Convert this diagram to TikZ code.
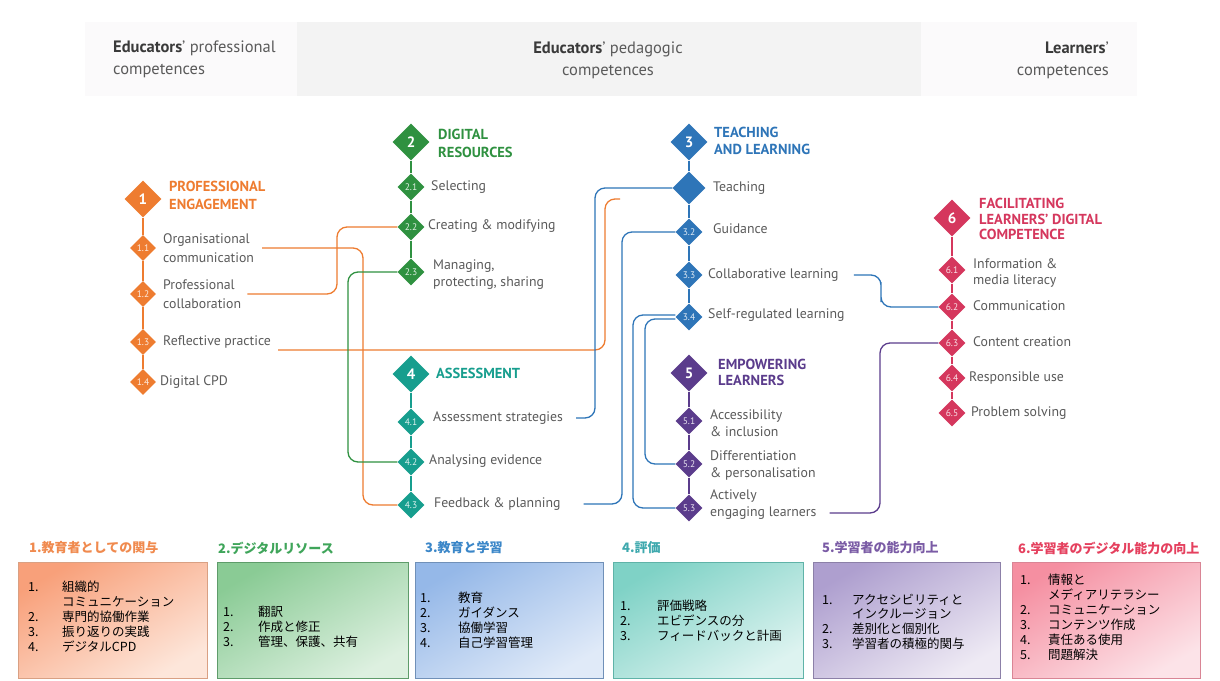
\documentclass[tikz,border=0pt]{standalone}
\usepackage{fontspec}
\setmainfont{PT Sans}
\newfontfamily\jpfont{Noto Sans CJK JP}
\usetikzlibrary{shapes.geometric}

% area colours
\definecolor{cOr}{HTML}{EE7C30}
\definecolor{cGr}{HTML}{2F9140}
\definecolor{cTe}{HTML}{179E8E}
\definecolor{cBl}{HTML}{2E75B8}
\definecolor{cPu}{HTML}{5B3C8C}
\definecolor{cRe}{HTML}{D5375D}
\definecolor{cTx}{HTML}{5A5A5A}
\definecolor{cHd}{HTML}{3A3A3A}
\definecolor{hdSide}{HTML}{FBFAFB}
\definecolor{hdMid}{HTML}{F3F3F3}
% Japanese summary panels
\definecolor{jt1}{HTML}{F08A4E}\definecolor{jb1}{HTML}{D9A083}\definecolor{ja1}{HTML}{F8A07A}\definecolor{jz1}{HTML}{FDE6DA}
\definecolor{jt2}{HTML}{3FA55A}\definecolor{jb2}{HTML}{5E9C6A}\definecolor{ja2}{HTML}{8ACB95}\definecolor{jz2}{HTML}{DDF0E0}
\definecolor{jt3}{HTML}{3A86C8}\definecolor{jb3}{HTML}{7090B8}\definecolor{ja3}{HTML}{95B8E8}\definecolor{jz3}{HTML}{E0EAF8}
\definecolor{jt4}{HTML}{3FA9AE}\definecolor{jb4}{HTML}{5FB3A8}\definecolor{ja4}{HTML}{7FD2C6}\definecolor{jz4}{HTML}{DDF3F0}
\definecolor{jt5}{HTML}{7A5BA5}\definecolor{jb5}{HTML}{8C80A8}\definecolor{ja5}{HTML}{AE9FCF}\definecolor{jz5}{HTML}{EEEAF4}
\definecolor{jt6}{HTML}{E5405E}\definecolor{jb6}{HTML}{D98595}\definecolor{ja6}{HTML}{F58FA1}\definecolor{jz6}{HTML}{FCE3E8}

\tikzset{
  maind/.style={diamond, aspect=1, fill=#1, minimum width=37pt, minimum height=37pt,
    inner sep=0pt, text=white, font=\bfseries\fontsize{15}{15}\selectfont},
  subd/.style={diamond, aspect=1, fill=#1, minimum width=27pt, minimum height=27pt,
    inner sep=0pt, text=white, text opacity=0.85, font=\fontsize{9.5}{10}\selectfont},
  ttl/.style={anchor=west, align=left, inner sep=0pt, text=#1,
    font=\bfseries\fontsize{14.5}{17}\selectfont},
  lbl/.style={anchor=west, align=left, inner sep=1pt, text=cTx,
    font=\fontsize{13.8}{17}\selectfont},
  hdr/.style={inner sep=0pt, text=cTx, font=\fontsize{16.5}{22}\selectfont},
  spine/.style={draw=#1, line width=1.6pt},
  conn/.style={draw=#1, line width=1.3pt, rounded corners=10pt},
  jtitle/.style={anchor=west, inner sep=0pt, text=#1, font=\jpfont\bfseries\fontsize{13}{13}\selectfont},
  jbox/.style n args={3}{draw=#1, line width=0.8pt, top color=#2, bottom color=#3, shading angle=30},
  jlist/.style={anchor=north west, inner sep=0pt, text=black, font=\jpfont\fontsize{12.5}{#1}\selectfont},
}

\begin{document}
\begin{tikzpicture}[x=1pt,y=-1pt]
\useasboundingbox (0,0) rectangle (1220,680);
\fill[white] (0,0) rectangle (1220,680);

% ---------- header band ----------
\fill[hdSide] (85,22) rectangle (297,96);
\fill[hdMid] (297,22) rectangle (921,96);
\fill[hdSide] (921,22) rectangle (1137,96);
\node[hdr, anchor=west, align=left] (hl) at (113,59)
  {{\bfseries\color{cHd}Educators}' professional\\competences};
\node[hdr, align=center] (hm) at (608,60)
  {{\bfseries\color{cHd}Educators}' pedagogic\\competences};
\node[hdr, anchor=east, align=right] (hr) at (1109,60)
  {{\bfseries\color{cHd}Learners}'\\competences};

% ---------- 1 professional engagement ----------
\node[maind=cOr] (d1) at (143,199) {1};
\node[ttl=cOr, font=\bfseries\fontsize{14.5}{18}\selectfont] (t1) at (169,195) {PROFESSIONAL\\ENGAGEMENT};
\node[subd=cOr, minimum width=26pt, minimum height=26pt] (d11) at (143,248) {1.1};
\node[subd=cOr, minimum width=26pt, minimum height=26pt] (d12) at (143,294) {1.2};
\node[subd=cOr, minimum width=26pt, minimum height=26pt] (d13) at (143,342) {1.3};
\node[subd=cOr, minimum width=26pt, minimum height=26pt] (d14) at (143,382) {1.4};
\node[lbl, font=\fontsize{13.8}{18.5}\selectfont] (l11) at (162,248) {Organisational\\communication};
\node[lbl, font=\fontsize{13.8}{18.5}\selectfont] (l12) at (162,294) {Professional\\collaboration};
\node[lbl] (l13) at (162,342) {Reflective practice};
\node[lbl] (l14) at (159,382) {Digital CPD};
\draw[spine=cOr] (d1) -- (d11) -- (d12) -- (d13) -- (d14);

% ---------- 2 digital resources ----------
\node[maind=cGr] (d2) at (411,142) {2};
\node[ttl=cGr, font=\bfseries\fontsize{14.5}{18}\selectfont] (t2) at (438,143) {DIGITAL\\RESOURCES};
\node[subd=cGr] (d21) at (411,187) {2.1};
\node[subd=cGr] (d22) at (411,227) {2.2};
\node[subd=cGr] (d23) at (411,272) {2.3};
\node[lbl] (l21) at (430,187) {Selecting};
\node[lbl] (l22) at (427,226) {Creating \& modifying};
\node[lbl] (l23) at (432,275) {Managing,\\protecting, sharing};
\draw[spine=cGr] (d2) -- (d21) -- (d22) -- (d23);

% ---------- 4 assessment ----------
\node[maind=cTe] (d4) at (411,374) {4};
\node[ttl=cTe] (t4) at (436,373) {ASSESSMENT};
\node[subd=cTe] (d41) at (411,422) {4.1};
\node[subd=cTe] (d42) at (411,462) {4.2};
\node[subd=cTe] (d43) at (411,505) {4.3};
\node[lbl] (l41) at (432,418) {Assessment strategies};
\node[lbl] (l42) at (428,461) {Analysing evidence};
\node[lbl] (l43) at (433,504) {Feedback \& planning};
\draw[spine=cTe] (d4) -- (d41) -- (d42) -- (d43);

% ---------- 3 teaching and learning ----------
\node[maind=cBl] (d3) at (689,142) {3};
\node[ttl=cBl] (t3) at (714,141) {TEACHING\\AND LEARNING};
\node[subd=cBl, minimum width=33pt, minimum height=33pt] (d31) at (689,188) {};
\node[subd=cBl] (d32) at (689,232) {3.2};
\node[subd=cBl] (d33) at (689,275) {3.3};
\node[subd=cBl] (d34) at (689,317) {3.4};
\node[lbl] (l31) at (712,188) {Teaching};
\node[lbl] (l32) at (712,229) {Guidance};
\node[lbl] (l33) at (707,275) {Collaborative learning};
\node[lbl] (l34) at (707,315) {Self-regulated learning};
\draw[spine=cBl] (d3) -- (d31) -- (d32) -- (d33) -- (d34);

% ---------- 5 empowering learners ----------
\node[maind=cPu] (d5) at (689,373) {5};
\node[ttl=cPu, font=\bfseries\fontsize{14.5}{16}\selectfont] (t5) at (718,372) {EMPOWERING\\LEARNERS};
\node[subd=cPu] (d51) at (689,421) {5.1};
\node[subd=cPu] (d52) at (689,464) {5.2};
\node[subd=cPu] (d53) at (689,508) {5.3};
\node[lbl] (l51) at (709,423) {Accessibility\\\& inclusion};
\node[lbl] (l52) at (709,465) {Differentiation\\\& personalisation};
\node[lbl] (l53) at (709,505) {Actively\\engaging learners};
\draw[spine=cPu] (d5) -- (d51) -- (d52) -- (d53);

% ---------- 6 learners' digital competence ----------
\node[maind=cRe] (d6) at (952,218) {6};
\node[ttl=cRe, font=\bfseries\fontsize{14.5}{15.5}\selectfont] (t6) at (979,219) {FACILITATING\\LEARNERS' DIGITAL\\COMPETENCE};
\node[subd=cRe] (d61) at (952,270) {6.1};
\node[subd=cRe] (d62) at (952,307) {6.2};
\node[subd=cRe] (d63) at (952,343) {6.3};
\node[subd=cRe] (d64) at (952,378) {6.4};
\node[subd=cRe] (d65) at (952,413) {6.5};
\node[lbl, font=\fontsize{13.8}{16}\selectfont] (l61) at (972,273) {Information \&\\media literacy};
\node[lbl] (l62) at (972,306) {Communication};
\node[lbl] (l63) at (972,342) {Content creation};
\node[lbl] (l64) at (968,378) {Responsible use};
\node[lbl] (l65) at (970,413) {Problem solving};
\draw[spine=cRe] (d6) -- (d61) -- (d62) -- (d63) -- (d64) -- (d65);

% ---------- links between competences ----------
\coordinate (oEnd) at (620,199);
\draw[conn=cOr] ([xshift=7pt]l11.east) -| (363,400) |- (d43.west);
\draw[conn=cOr] ([xshift=5pt]l12.east) -| (337,260) |- (d22.west);
\draw[conn=cOr] ([xshift=6pt,yshift=-8pt]l13.east) -| (605,280) |- (oEnd);
\draw[conn=cGr] (d23.west) -| (348,360) |- (d42.west);
\draw[conn=cBl] ([xshift=12pt]l41.east) -| (595,300) |- (d31.west);
\draw[conn=cBl] ([xshift=22pt]l43.east) -| (622,350) |- (d32.west);
\draw[conn=cBl] ([yshift=2pt]d34.west) -| (633,400) |- (d53.west);
\draw[conn=cBl] ([yshift=-2pt]d34.west) -| (645,400) |- (d52.west);
\draw[conn=cBl] ([xshift=14pt]l33.east) -| (881,292) |- (d62.west);
\draw[conn=cPu] ([xshift=12pt,yshift=-8pt]l53.east) -| (880,420) |- (d63.west);

% ---------- Japanese summary panels ----------
\node[jtitle=jt1] (jt1n) at (29,548) {1.教育者としての関与};
\node[jtitle=jt2] (jt2n) at (218,548) {2.デジタルリソース};
\node[jtitle=jt3] (jt3n) at (425,548) {3.教育と学習};
\node[jtitle=jt4] (jt4n) at (622,548) {4.評価};
\node[jtitle=jt5] (jt5n) at (822,548) {5.学習者の能力向上};
\node[jtitle=jt6] (jt6n) at (1018,548) {6.学習者のデジタル能力の向上};

\path[jbox={jb1}{ja1}{jz1}] (18,562) rectangle (207,678);
\path[jbox={jb2}{ja2}{jz2}] (217,562) rectangle (408,678);
\path[jbox={jb3}{ja3}{jz3}] (415,562) rectangle (603,678);
\path[jbox={jb4}{ja4}{jz4}] (613,562) rectangle (803,678);
\path[jbox={jb5}{ja5}{jz5}] (813,562) rectangle (1000,678);
\path[jbox={jb6}{ja6}{jz6}] (1012,562) rectangle (1200,678);

\node[jlist=15] (jl1) at (28,581) {\begin{tabular}{@{}p{34pt}@{}l@{}}
1. & 組織的\\ & コミュニケーション\\ 2. & 専門的協働作業\\ 3. & 振り返りの実践\\ 4. & デジタルCPD\end{tabular}};
\node[jlist=15] (jl2) at (223,606) {\begin{tabular}{@{}p{35pt}@{}l@{}}
1. & 翻訳\\ 2. & 作成と修正\\ 3. & 管理、保護、共有\end{tabular}};
\node[jlist=15] (jl3) at (420,592) {\begin{tabular}{@{}p{38pt}@{}l@{}}
1. & 教育\\ 2. & ガイダンス\\ 3. & 協働学習\\ 4. & 自己学習管理\end{tabular}};
\node[jlist=14] (jl4) at (620,600) {\begin{tabular}{@{}p{37pt}@{}l@{}}
1. & 評価戦略\\ 2. & エビデンスの分\\ 3. & フィードバックと計画\end{tabular}};
\node[jlist=14] (jl5) at (822,594) {\begin{tabular}{@{}p{30pt}@{}l@{}}
1. & アクセシビリティと\\ & インクルージョン\\ 2. & 差別化と個別化\\ 3. & 学習者の積極的関与\end{tabular}};
\node[jlist=15] (jl6) at (1020,574) {\begin{tabular}{@{}p{28pt}@{}l@{}}
1. & 情報と\\ & メディアリテラシー\\ 2. & コミュニケーション\\ 3. & コンテンツ作成\\ 4. & 責任ある使用\\ 5. & 問題解決\end{tabular}};
\end{tikzpicture}
\end{document}
